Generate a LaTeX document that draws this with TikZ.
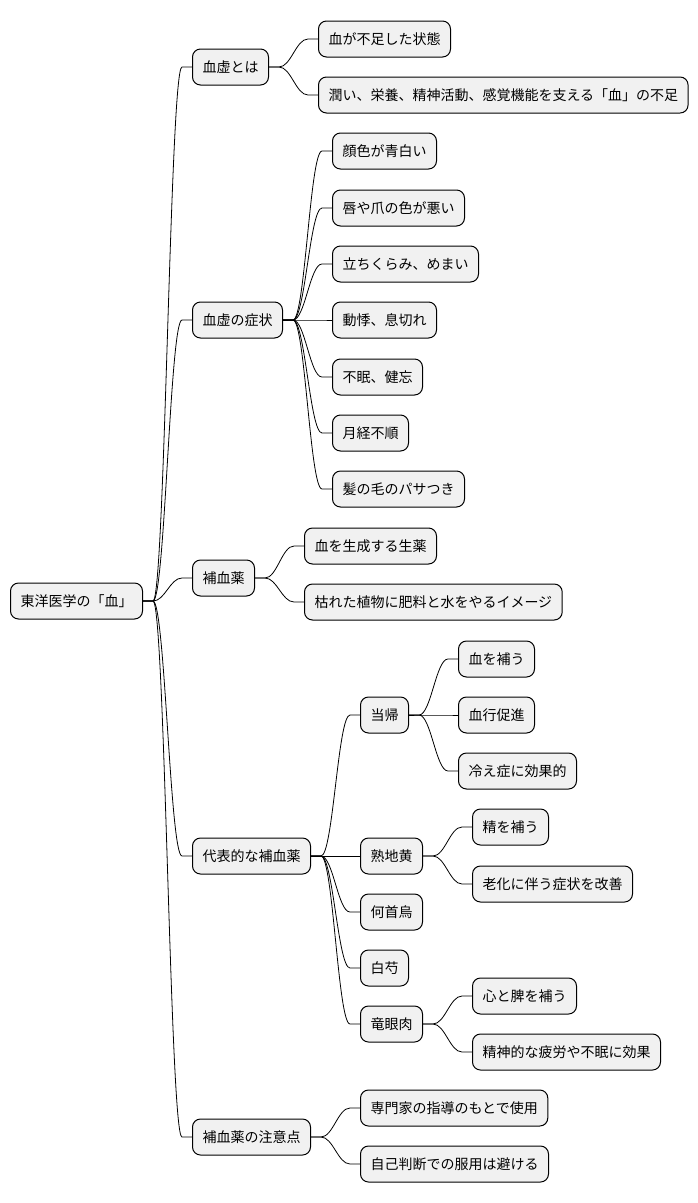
\documentclass[tikz,border=0pt]{standalone}
\usepackage{fontspec}
\setmainfont{Noto Sans CJK JP}
\usetikzlibrary{positioning}
\definecolor{boxgray}{HTML}{F1F1F1}
\tikzset{
  box/.style={draw, line width=0.75pt, fill=boxgray, rounded corners=6pt,
    anchor=west, minimum height=27pt, inner xsep=7.5pt,
    font=\fontsize{10.5}{12}\selectfont},
  branch/.style={line width=0.6pt},
}
\newcommand\branch[2]{\draw[branch] (#1.east) -- ([xshift=7.5pt]#1.east)
  .. controls +(9pt,0pt) and +(-9pt,0pt) .. ([xshift=-7.5pt]#2.west) -- (#2.west);}

\begin{document}
\begin{tikzpicture}[x=0.75pt, y=-0.75pt]
    \useasboundingbox (0,0) rectangle (698,1203);
    % ---- root ----
    \node[box] (root) at (10,601) {東洋医学の「血」};
    % ---- first level ----
    \node[box] (kyo)     at (192,67)   {血虚とは};
    \node[box] (shojo)   at (192,320)  {血虚の症状};
    \node[box] (hoketsu) at (192,578)  {補血薬};
    \node[box] (daihyo)  at (192,856)  {代表的な補血薬};
    \node[box] (chui)    at (192,1137) {補血薬の注意点};
    % ---- 血虚とは ----
    \node[box] (k1) at (318,39) {血が不足した状態};
    \node[box] (k2) at (318,95) {潤い、栄養、精神活動、感覚機能を支える「血」の不足};
    % ---- 症状 ----
    \node[box] (s1) at (332,151) {顔色が青白い};
    \node[box] (s2) at (332,208) {唇や爪の色が悪い};
    \node[box] (s3) at (332,264) {立ちくらみ、めまい};
    \node[box] (s4) at (332,320) {動悸、息切れ};
    \node[box] (s5) at (332,377) {不眠、健忘};
    \node[box] (s6) at (332,433) {月経不順};
    \node[box] (s7) at (332,489) {髪の毛のパサつき};
    % ---- 補血薬 ----
    \node[box] (h1) at (304,546) {血を生成する生薬};
    \node[box] (h2) at (304,602) {枯れた植物に肥料と水をやるイメージ};
    % ---- 代表的な補血薬 ----
    \node[box] (toki)   at (360,715)  {当帰};
    \node[box] (jukuji) at (360,856)  {熟地黄};
    \node[box] (kashu)  at (360,912)  {何首烏};
    \node[box] (byaku)  at (360,968)  {白芍};
    \node[box] (ryugan) at (360,1024) {竜眼肉};
    \node[box] (t1) at (458,659) {血を補う};
    \node[box] (t2) at (458,715) {血行促進};
    \node[box] (t3) at (458,771) {冷え症に効果的};
    \node[box] (j1) at (472,827) {精を補う};
    \node[box] (j2) at (472,884) {老化に伴う症状を改善};
    \node[box] (r1) at (472,996)  {心と脾を補う};
    \node[box] (r2) at (472,1052) {精神的な疲労や不眠に効果};
    % ---- 注意点 ----
    \node[box] (c1) at (360,1108) {専門家の指導のもとで使用};
    \node[box] (c2) at (360,1164) {自己判断での服用は避ける};
    % ---- branches ----
    \foreach \c in {kyo,shojo,hoketsu,daihyo,chui} {\branch{root}{\c}}
    \foreach \c in {k1,k2} {\branch{kyo}{\c}}
    \foreach \c in {s1,s2,s3,s4,s5,s6,s7} {\branch{shojo}{\c}}
    \foreach \c in {h1,h2} {\branch{hoketsu}{\c}}
    \foreach \c in {toki,jukuji,kashu,byaku,ryugan} {\branch{daihyo}{\c}}
    \foreach \c in {t1,t2,t3} {\branch{toki}{\c}}
    \foreach \c in {j1,j2} {\branch{jukuji}{\c}}
    \foreach \c in {r1,r2} {\branch{ryugan}{\c}}
    \foreach \c in {c1,c2} {\branch{chui}{\c}}
\end{tikzpicture}
\end{document}
